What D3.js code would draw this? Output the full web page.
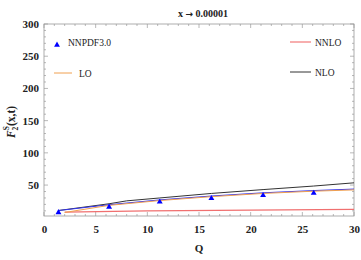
<!DOCTYPE html>
<html><head><meta charset="utf-8">
<script src="https://cdn.jsdelivr.net/npm/d3@7"></script>
<style>body{margin:0;background:#fff}svg{display:block}</style>
</head><body><svg id="c" width="361" height="260"></svg>
<script>
const xTicks = [0,5,10,15,20,25,30];
const yTicks = [50,100,150,200,250,300];
const nnpdfQ = [1.4,6.3,11.2,16.2,21.2,26.1];
const nnpdfF = [7.5,16,24,29.3,34,37.6];
const blueQ = [1.4,6.3,11.2,16.2,21.2,26.1,30];
const blueF = [10.5,19.5,27,33,38,41.5,43.8];
const loQ = [2,6.3,11.2,16.2,21.2,26.1,30];
const loF = [7.5,18.5,26,32,37,40.5,42.5];
const nloQ = [1.4,6.3,8,11.2,16.2,21.2,26.1,30];
const nloF = [10.5,21,25.5,30,37,43,48.5,53.5];
const nnloQ = [2,10,20,30];
const nnloF = [8,9.8,11,12.3];

const svg = d3.select("#c");
const L=44, R=354, T=24, B=216;
const x = d3.scaleLinear().domain([0,30]).range([L,R]);
const y = d3.scaleLinear().domain([2,300]).range([B,T]);
const serif = "'Liberation Serif','DejaVu Serif',serif";
const grey = "#999";

svg.append("rect").attr("x",L).attr("y",T).attr("width",R-L).attr("height",B-T)
  .attr("fill","none").attr("stroke",grey).attr("stroke-width",0.8);

// ticks
const xMinor = d3.range(0,31,1);
const yMinor = d3.range(10,301,10);
const tk = svg.append("g").attr("stroke",grey).attr("stroke-width",0.7);
xMinor.forEach(v=>{
  const len = v%5===0?4:2;
  tk.append("line").attr("x1",x(v)).attr("x2",x(v)).attr("y1",B).attr("y2",B-len);
  tk.append("line").attr("x1",x(v)).attr("x2",x(v)).attr("y1",T).attr("y2",T+len);
});
yMinor.forEach(v=>{
  if (y(v)<T-0.1) return;
  const len = v%50===0?4:2;
  tk.append("line").attr("x1",L).attr("x2",L+len).attr("y1",y(v)).attr("y2",y(v));
  tk.append("line").attr("x1",R).attr("x2",R-len).attr("y1",y(v)).attr("y2",y(v));
});

const ax = svg.append("g").attr("transform",`translate(0,${B})`)
  .call(d3.axisBottom(x).tickValues(xTicks).tickSize(0).tickPadding(9));
const ay = svg.append("g").attr("transform",`translate(${L},0)`)
  .call(d3.axisLeft(y).tickValues(yTicks).tickSize(0).tickPadding(5));
[ax,ay].forEach(a=>{
  a.select(".domain").remove();
  a.selectAll("text").attr("font-family",serif).attr("font-weight","bold").attr("font-size",11).attr("fill","#222");
});

const line = d3.line().x(d=>x(d[0])).y(d=>y(d[1]));
const zip = (a,b)=>a.map((v,i)=>[v,b[i]]);
svg.append("path").datum(zip(nnloQ,nnloF)).attr("d",line).attr("fill","none").attr("stroke","#f07070").attr("stroke-width",1.2);
svg.append("path").datum(zip(nloQ,nloF)).attr("d",line).attr("fill","none").attr("stroke","#333").attr("stroke-width",1);
svg.append("path").datum(zip(blueQ,blueF)).attr("d",line).attr("fill","none").attr("stroke","#3333ee").attr("stroke-width",1);
svg.append("path").datum(zip(loQ,loF)).attr("d",line).attr("fill","none").attr("stroke","#f0a050").attr("stroke-width",1);

const tri = d3.symbol().type(d3.symbolTriangle).size(15);
svg.selectAll(".pt").data(zip(nnpdfQ,nnpdfF)).join("path")
  .attr("transform",d=>`translate(${x(d[0])},${y(d[1])})`).attr("d",tri).attr("fill","#0000ff");

// legend
const lg = svg.append("g").attr("font-family",serif).attr("font-size",9.5).attr("fill","#222");
lg.append("path").attr("transform","translate(57,45)").attr("d",tri).attr("fill","#0000ff");
lg.append("text").attr("x",68).attr("y",46).text("NNPDF3.0");
lg.append("line").attr("x1",54).attr("x2",72).attr("y1",73).attr("y2",73).attr("stroke","#f0a050").attr("stroke-width",1);
lg.append("text").attr("x",79).attr("y",77).text("LO");
lg.append("line").attr("x1",290).attr("x2",311).attr("y1",42).attr("y2",42).attr("stroke","#f59a9a").attr("stroke-width",1.6);
lg.append("text").attr("x",315).attr("y",46).text("NNLO");
lg.append("line").attr("x1",290).attr("x2",311).attr("y1",72).attr("y2",72).attr("stroke","#333").attr("stroke-width",1);
lg.append("text").attr("x",315).attr("y",76).text("NLO");

// title
const tt = svg.append("text").attr("x",203).attr("y",17).attr("text-anchor","middle")
  .attr("font-family",serif).attr("font-weight","bold").attr("font-size",10).attr("fill","#222");
tt.append("tspan").text("x ");
tt.append("tspan").attr("font-family","'DejaVu Sans',sans-serif").attr("font-size",9).text("\u2192");
tt.append("tspan").text(" 0.00001");
// x label
svg.append("text").attr("x",199).attr("y",252).attr("text-anchor","middle")
  .attr("font-family",serif).attr("font-weight","bold").attr("font-size",11).attr("fill","#222").text("Q");
// y label
const yl = svg.append("text").attr("transform","translate(15,122) rotate(-90)").attr("text-anchor","middle")
  .attr("font-family",serif).attr("font-weight","bold").attr("font-size",11.5).attr("fill","#222");
yl.append("tspan").attr("font-style","italic").text("F");
yl.append("tspan").attr("font-size",7.5).attr("dy",3).text("2");
yl.append("tspan").attr("font-size",7.5).attr("dy",-9).attr("dx",-3.5).text("S");
yl.append("tspan").attr("dy",6).text("(x,t)");
</script></body></html>
